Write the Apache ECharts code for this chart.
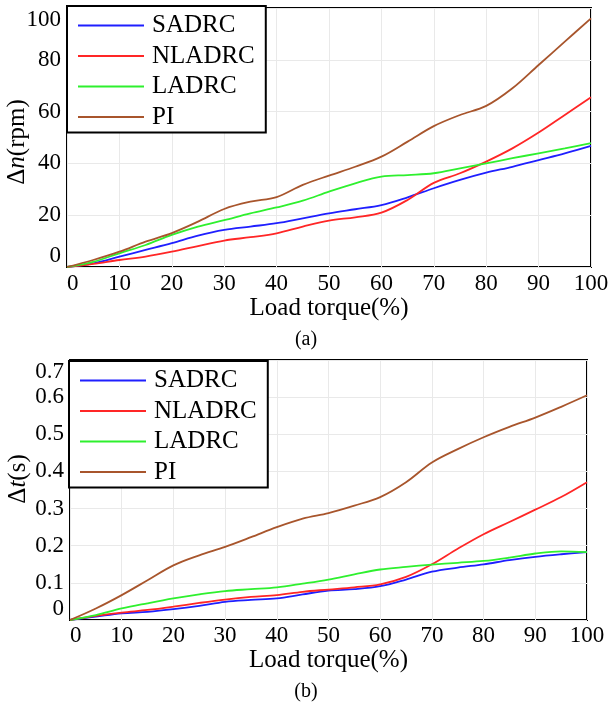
<!DOCTYPE html>
<html>
<head>
<meta charset="utf-8">
<script src="https://cdn.jsdelivr.net/npm/echarts@6/dist/echarts.min.js"></script>
<style>
  html, body { margin: 0; padding: 0; background: #fff; }
  #chart { width: 612px; height: 702px; }
</style>
</head>
<body>
<div id="chart"></div>
<script>
// Load torque (%) sample points shared by both panels
const loadTorque = [0, 5, 10, 15, 20, 25, 30, 35, 40, 45, 50, 55, 60, 65, 70, 75, 80, 85, 90, 95, 100];

// Panel (a): speed drop Δn (rpm)
const dnSADRC  = [0, 1.4, 4.0, 6.6, 9.2, 12.1, 14.3, 15.6, 16.9, 18.8, 20.7, 22.3, 23.9, 26.9, 30.4, 33.6, 36.4, 38.7, 41.3, 43.9, 46.8];
const dnNLADRC = [0, 1.2, 2.7, 4.0, 5.9, 8.1, 10.2, 11.5, 13.0, 15.6, 17.9, 19.2, 21.0, 25.9, 32.5, 36.2, 40.7, 45.8, 51.9, 58.7, 65.5];
const dnLADRC  = [0, 2.0, 5.3, 8.5, 12.4, 15.6, 18.1, 20.7, 23.0, 25.6, 29.1, 32.3, 34.9, 35.5, 36.2, 38.1, 40.0, 42.0, 43.9, 45.8, 47.8];
const dnPI     = [0, 2.7, 5.9, 9.8, 13.1, 17.5, 22.4, 25.2, 27.0, 31.7, 35.3, 38.7, 42.6, 48.4, 54.4, 58.7, 62.2, 69.0, 78.0, 87.0, 96.0];

// Panel (b): recovery time Δt (s)
const dtSADRC  = [0, 0.009, 0.018, 0.022, 0.029, 0.038, 0.049, 0.054, 0.058, 0.069, 0.079, 0.083, 0.091, 0.109, 0.130, 0.141, 0.150, 0.161, 0.170, 0.177, 0.183];
const dtNLADRC = [0, 0.011, 0.020, 0.027, 0.036, 0.046, 0.055, 0.062, 0.067, 0.076, 0.082, 0.088, 0.096, 0.116, 0.150, 0.192, 0.231, 0.264, 0.297, 0.331, 0.371];
const dtLADRC  = [0, 0.013, 0.031, 0.045, 0.058, 0.069, 0.078, 0.083, 0.088, 0.098, 0.109, 0.123, 0.136, 0.143, 0.149, 0.154, 0.159, 0.168, 0.179, 0.185, 0.183];
const dtPI     = [0, 0.031, 0.067, 0.107, 0.147, 0.174, 0.197, 0.223, 0.250, 0.273, 0.288, 0.308, 0.331, 0.371, 0.424, 0.460, 0.492, 0.520, 0.545, 0.574, 0.605];

const controllers = ['SADRC', 'NLADRC', 'LADRC', 'PI'];
const colors = { SADRC: '#1f1fff', NLADRC: '#ff2626', LADRC: '#2ef02e', PI: '#a8552c' };

const xTicks = [0, 10, 20, 30, 40, 50, 60, 70, 80, 90, 100];
const dnTicks = [0, 20, 40, 60, 80, 100];
const dtTicks = [0, 0.1, 0.2, 0.3, 0.4, 0.5, 0.6, 0.7];

const FONT = '"Liberation Serif", "Times New Roman", serif';

function pairs(ys) { return loadTorque.map((x, i) => [x, ys[i]]); }

function xAxisFor(gridIndex, labelMargin, nameGap) {
  return {
    type: 'value', gridIndex: gridIndex,
    min: xTicks[0], max: xTicks[xTicks.length - 1], interval: 10,
    axisLine: { show: false },
    axisTick: { show: false },
    splitLine: { show: true, lineStyle: { color: '#e9e9e9', width: 1 } },
    axisLabel: { color: '#000', fontFamily: FONT, fontSize: 23, margin: labelMargin, alignMinLabel: 'left' },
    name: 'Load torque(%)', nameLocation: 'middle', nameGap: nameGap,
    nameTextStyle: { color: '#000', fontFamily: FONT, fontSize: 25 }
  };
}

function yAxisFor(gridIndex, ticks, interval, fmt) {
  return {
    type: 'value', gridIndex: gridIndex,
    min: ticks[0], max: ticks[ticks.length - 1], interval: interval,
    axisLine: { show: false },
    axisTick: { show: false },
    splitLine: { show: true, lineStyle: { color: '#e9e9e9', width: 1 } },
    axisLabel: {
      color: '#000', fontFamily: FONT, fontSize: 23, margin: 6,
      formatter: fmt,
      verticalAlignMinLabel: 'bottom', verticalAlignMaxLabel: 'top'
    }
  };
}

// Rotated y-axis title with an italic variable symbol
function yTitle(x, y, text) {
  return {
    type: 'text', x: x, y: y, rotation: Math.PI / 2, z: 10,
    style: {
      text: text, align: 'center', verticalAlign: 'middle',
      fill: '#000', font: '25px ' + FONT,
      rich: {
        s: { fontFamily: FONT, fontSize: 25, fill: '#000' },
        i: { fontFamily: FONT, fontSize: 25, fontStyle: 'italic', fill: '#000' }
      }
    }
  };
}

function seriesFor(gridIndex, dataByName) {
  return controllers.map(n => ({
    name: n, type: 'line',
    xAxisIndex: gridIndex, yAxisIndex: gridIndex,
    data: pairs(dataByName[n]),
    smooth: 0.35, symbol: 'none',
    lineStyle: { color: colors[n], width: 1.8 },
    itemStyle: { color: colors[n] },
    animation: false
  }));
}

function legendFor(top, left) {
  return {
    orient: 'vertical', left: left, top: top,
    data: controllers,
    icon: 'rect',
    backgroundColor: '#fff', borderColor: '#000', borderWidth: 2,
    padding: [7, 11, 3, 11],
    itemWidth: 66, itemHeight: 2, itemGap: 5.5,
    selectedMode: false,
    textStyle: { color: '#000', fontFamily: FONT, fontSize: 25, lineHeight: 25, padding: [0, 0, 0, 3] }
  };
}

const chart = echarts.init(document.getElementById('chart'), null, { renderer: 'canvas' });

chart.setOption({
  animation: false,
  backgroundColor: '#fff',
  title: [
    { text: '(a)', left: 'center', top: 325, textStyle: { fontFamily: FONT, fontSize: 20, fontWeight: 'normal', color: '#000' } },
    { text: '(b)', left: 'center', top: 677, textStyle: { fontFamily: FONT, fontSize: 20, fontWeight: 'normal', color: '#000' } }
  ],
  grid: [
    { left: 67, top: 8, width: 524, height: 259, show: true, borderColor: '#000', borderWidth: 2,
      backgroundColor: 'transparent', containLabel: false, outerBoundsMode: 'none' },
    { left: 70, top: 360, width: 517, height: 260, show: true, borderColor: '#000', borderWidth: 2,
      backgroundColor: 'transparent', containLabel: false, outerBoundsMode: 'none' }
  ],
  xAxis: [xAxisFor(0, 5, 24), xAxisFor(1, 4, 23)],
  yAxis: [
    yAxisFor(0, dnTicks, 20, v => String(v)),
    yAxisFor(1, dtTicks, 0.1, v => (v === 0 ? '0' : v.toFixed(1)))
  ],
  graphic: [
    yTitle(17, 142, '{s|Δ}{i|n}{s|(rpm)}'),
    yTitle(18, 479, '{s|Δ}{i|t}{s|(s)}')
  ],
  legend: [legendFor(6, 67), legendFor(361, 69)],
  series: [].concat(
    seriesFor(0, { SADRC: dnSADRC, NLADRC: dnNLADRC, LADRC: dnLADRC, PI: dnPI }),
    seriesFor(1, { SADRC: dtSADRC, NLADRC: dtNLADRC, LADRC: dtLADRC, PI: dtPI })
  )
});
</script>
</body>
</html>
